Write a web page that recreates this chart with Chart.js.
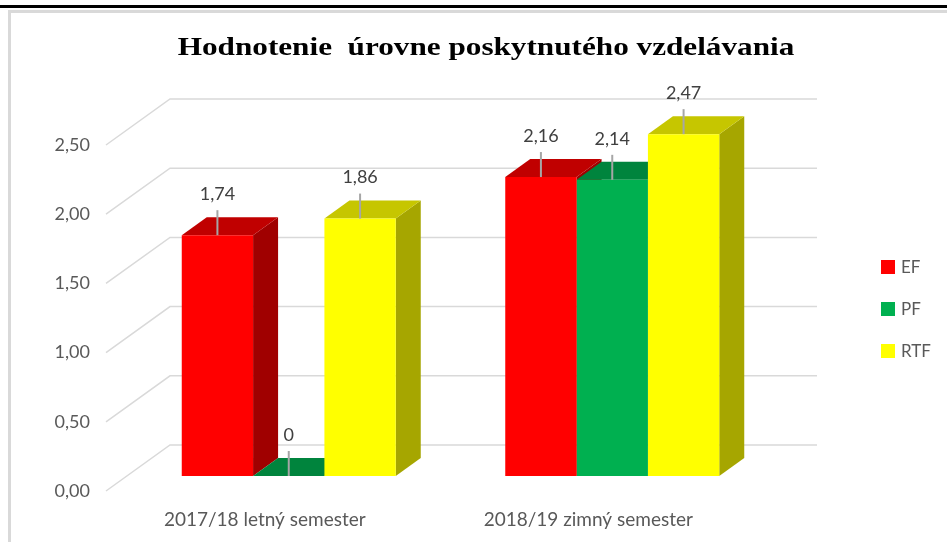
<!DOCTYPE html>
<html>
<head>
<meta charset="utf-8">
<script src="https://cdn.jsdelivr.net/npm/chart.js"></script>
<style>
    body { margin: 0; background: #fff; }
    canvas { display: block; }
</style>
</head>
<body>
<canvas id="gradeChart" width="947" height="542"></canvas>
<script>
const chartTitle = 'Hodnotenie  úrovne poskytnutého vzdelávania';
const semesters = ['2017/18 letný semester', '2018/19 zimný semester'];
const efValues = [1.74, 2.16];
const pfValues = [0, 2.14];
const rtfValues = [1.86, 2.47];
const yTicks = [0, 0.5, 1, 1.5, 2, 2.5];

// front / top / side colours of each 3D bar
const faces = [
    { front: '#FF0000', top: '#C00000', side: '#A00000' },
    { front: '#00B050', top: '#00843D', side: '#006B32' },
    { front: '#FFFF00', top: '#C6C600', side: '#A6A600' }
];

// depth of the walls and bars relative to the bar front plane
const WALL_FRONT = { dx: -21, dy: 15 };
const WALL_BACK = { dx: 43, dy: -31 };
const BAR_DEPTH = { dx: 25, dy: -18 };

const gridColor = '#d9d9d9';
const textFont = 'Lato, "Liberation Sans", sans-serif';

function fmt(v) {
    return v === 0 ? '0' : v.toFixed(2).replace('.', ',');
}

const depthPlugin = {
    id: 'depth',
    beforeDraw(chart) {
        const ctx = chart.ctx;
        ctx.save();
        ctx.fillStyle = '#000';
        ctx.fillRect(0, 5, 947, 3);
        ctx.fillStyle = gridColor;
        ctx.fillRect(8, 10, 939, 3);
        ctx.fillRect(8, 10, 3, 532);

        // title is a little stretched sideways in the original
        ctx.fillStyle = '#000';
        ctx.font = 'bold 26px "Liberation Serif", serif';
        ctx.textAlign = 'center';
        ctx.textBaseline = 'alphabetic';
        ctx.translate(486, 55);
        ctx.scale(1.2, 1);
        ctx.fillText(chartTitle, 0, 0);
        ctx.restore();
    },
    beforeDatasetsDraw(chart) {
        const ctx = chart.ctx;
        const area = chart.chartArea;
        const y = chart.scales.y;
        ctx.save();
        ctx.strokeStyle = gridColor;
        ctx.lineWidth = 1.5;
        y.ticks.forEach(t => {
            const py = y.getPixelForValue(t.value);
            ctx.beginPath();
            ctx.moveTo(area.left + WALL_FRONT.dx, py + WALL_FRONT.dy);
            ctx.lineTo(area.left + WALL_BACK.dx, py + WALL_BACK.dy);
            ctx.lineTo(area.right + WALL_BACK.dx, py + WALL_BACK.dy);
            ctx.stroke();
        });

        // side and top faces, left to right so neighbours overlap properly
        const bars = [];
        chart.data.datasets.forEach((ds, d) => {
            chart.getDatasetMeta(d).data.forEach(el => bars.push({ el, f: faces[d] }));
        });
        bars.sort((a, b) => a.el.x - b.el.x);
        bars.forEach(({ el, f }) => {
            const l = el.x - el.width / 2;
            const r = el.x + el.width / 2;
            const top = el.y;
            const base = el.base;
            ctx.fillStyle = f.side;
            ctx.beginPath();
            ctx.moveTo(r, top);
            ctx.lineTo(r + BAR_DEPTH.dx, top + BAR_DEPTH.dy);
            ctx.lineTo(r + BAR_DEPTH.dx, base + BAR_DEPTH.dy);
            ctx.lineTo(r, base);
            ctx.closePath();
            ctx.fill();
            ctx.fillStyle = f.top;
            ctx.beginPath();
            ctx.moveTo(l, top);
            ctx.lineTo(l + BAR_DEPTH.dx, top + BAR_DEPTH.dy);
            ctx.lineTo(r + BAR_DEPTH.dx, top + BAR_DEPTH.dy);
            ctx.lineTo(r, top);
            ctx.closePath();
            ctx.fill();
        });
        ctx.restore();
    },
    afterDatasetsDraw(chart) {
        const ctx = chart.ctx;
        ctx.save();
        ctx.font = '18px ' + textFont;
        ctx.textAlign = 'center';
        ctx.textBaseline = 'middle';
        chart.data.datasets.forEach((ds, d) => {
            chart.getDatasetMeta(d).data.forEach((el, i) => {
                ctx.strokeStyle = '#a6a6a6';
                ctx.lineWidth = 2;
                ctx.beginPath();
                ctx.moveTo(el.x, el.y);
                ctx.lineTo(el.x, el.y - 25);
                ctx.stroke();
                ctx.fillStyle = '#404040';
                ctx.fillText(fmt(ds.data[i]), el.x, el.y - 41);
            });
        });

        // legend on the right
        ctx.font = '17px ' + textFont;
        ctx.textAlign = 'left';
        chart.data.datasets.forEach((ds, d) => {
            const cy = 267 + d * 42;
            ctx.fillStyle = ds.backgroundColor;
            ctx.fillRect(881, cy - 7, 14, 14);
            ctx.fillStyle = '#595959';
            ctx.fillText(ds.label, 901, cy + 1);
        });
        ctx.restore();
    }
};

new Chart(document.getElementById('gradeChart'), {
    type: 'bar',
    data: {
        labels: semesters,
        datasets: [
            { label: 'EF', data: efValues, backgroundColor: faces[0].front },
            { label: 'PF', data: pfValues, backgroundColor: faces[1].front },
            { label: 'RTF', data: rtfValues, backgroundColor: faces[2].front }
        ]
    },
    options: {
        responsive: false,
        animation: false,
        events: [],
        layout: { padding: { left: 0, right: 173, top: 130, bottom: 0 } },
        datasets: {
            bar: { categoryPercentage: 0.6615, barPercentage: 1, borderWidth: 0 }
        },
        plugins: {
            legend: { display: false },
            title: { display: false },
            tooltip: { enabled: false }
        },
        scales: {
            x: {
                grid: { display: false, drawTicks: false },
                border: { display: false },
                ticks: {
                    color: '#595959',
                    font: { family: textFont, size: 19 },
                    padding: 32,
                    labelOffset: -24,
                    maxRotation: 0
                },
                afterFit(scale) { scale.height = 66; }
            },
            y: {
                min: 0,
                max: 2.5,
                afterBuildTicks(scale) {
                    scale.ticks = yTicks.map(v => ({ value: v }));
                },
                grid: { display: false, drawTicks: false },
                border: { display: false },
                ticks: {
                    color: '#595959',
                    font: { family: textFont, size: 18 },
                    padding: 37,
                    labelOffset: 15,
                    callback: v => v.toFixed(2).replace('.', ',')
                },
                afterFit(scale) { scale.width = 127; }
            }
        }
    },
    plugins: [depthPlugin]
});
</script>
</body>
</html>
